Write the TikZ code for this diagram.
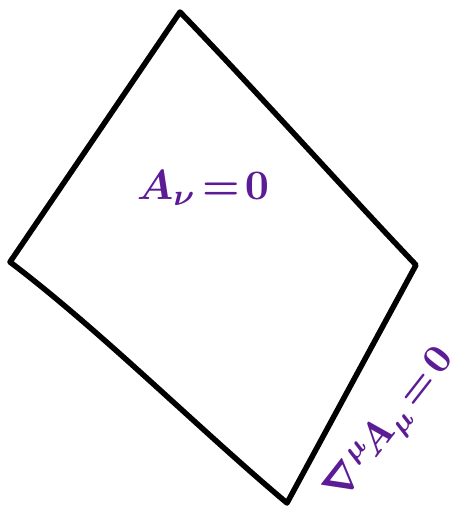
\documentclass[tikz,border=0pt]{standalone}
\usepackage{fontspec}
\definecolor{inkpurple}{RGB}{92,28,150}
\tikzset{
  edge/.style={line width=5.5pt, line cap=round, line join=round, black},
  lbl/.style={text=inkpurple, inner sep=0pt, font=\boldmath}
}
\begin{document}
\begin{tikzpicture}[x=1pt,y=-1pt]
\useasboundingbox (0,0) rectangle (462,515);
\coordinate (T) at (180,12);
\coordinate (L) at (10,262);
\coordinate (R) at (416,265);
\coordinate (B) at (287,503);
\draw[edge] (L) -- (T) .. controls (260,95) and (340,185) .. (R) -- (B) .. controls (200,430) and (100,330) .. (L) -- cycle;
\node[lbl, scale=4.2] (inner) at (203,188) {$A_{\nu}\!=\!0$};
\node[lbl, scale=4.0, rotate=52] (gauge) at (392,426) {$\nabla^{\mu}\!A_{\mu}\!=\!0$};
\end{tikzpicture}
\end{document}
